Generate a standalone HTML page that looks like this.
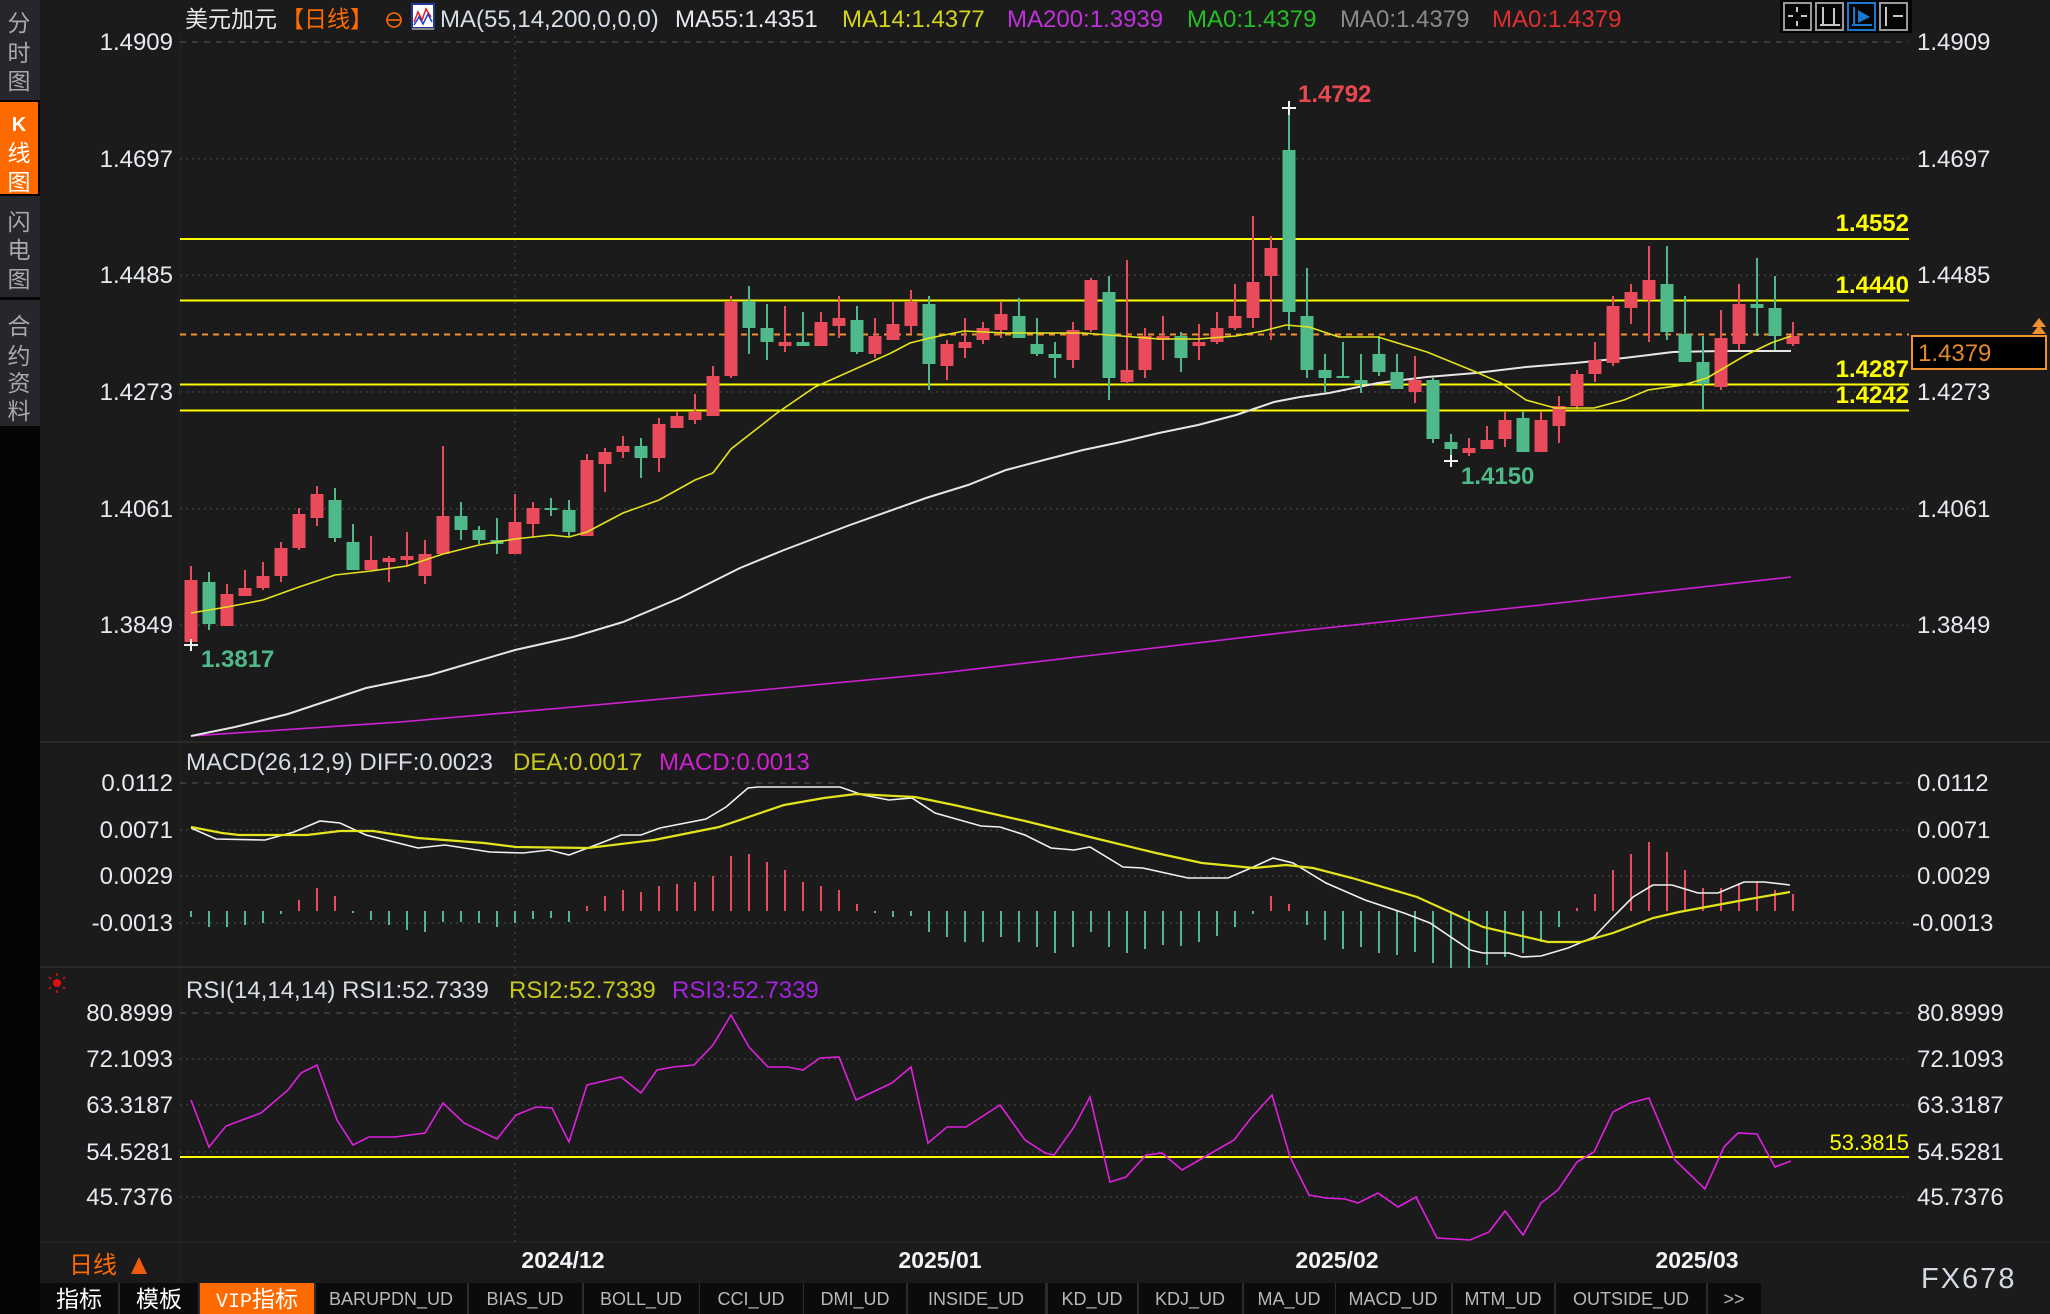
<!DOCTYPE html>
<html><head><meta charset="utf-8"><style>
html,body{margin:0;padding:0;background:#1b1b1b;}
svg{display:block;}
text{font-family:"Liberation Sans","Noto Sans CJK SC",sans-serif;}
.ax{font-size:24px;fill:#e6eaf0;}
.cj{font-family:"Liberation Sans","Noto Sans CJK SC",sans-serif;}
.tab{font-family:"Liberation Mono","Noto Sans CJK SC",monospace;font-size:18px;fill:#b8b8b8;text-anchor:middle;}
</style></head><body>
<svg width="2050" height="1314" viewBox="0 0 2050 1314" xmlns="http://www.w3.org/2000/svg">
<rect x="0" y="0" width="2050" height="1314" fill="#1b1b1b"/>
<!-- left sidebar -->
<rect x="0" y="0" width="40" height="1314" fill="#050505"/>
<rect x="0" y="0" width="40" height="100" fill="#26272c"/>
<rect x="0" y="102" width="38" height="92" fill="#ff6a00"/>
<rect x="0" y="196" width="40" height="101" fill="#26272c"/>
<rect x="0" y="300" width="40" height="126" fill="#26272c"/>
<g class="cj" font-size="23" fill="#a9a9a9" text-anchor="middle">
<text x="19" y="31">分</text><text x="19" y="61">时</text><text x="19" y="89">图</text>
<text x="19" y="230">闪</text><text x="19" y="258">电</text><text x="19" y="287">图</text>
<text x="19" y="334">合</text><text x="19" y="364">约</text><text x="19" y="391">资</text><text x="19" y="419">料</text>
</g>
<g class="cj" font-size="23" fill="#ffffff" text-anchor="middle">
<text x="19" y="131" font-size="20" font-weight="bold">K</text><text x="19" y="161">线</text><text x="19" y="190">图</text>
</g>

<!-- panel separators -->
<line x1="40" y1="742" x2="2050" y2="742" stroke="#2a2a2a" stroke-width="2"/>
<line x1="40" y1="967" x2="2050" y2="967" stroke="#2a2a2a" stroke-width="2"/>
<line x1="40" y1="1242" x2="2050" y2="1242" stroke="#242424" stroke-width="1"/>
<line x1="180" y1="36" x2="180" y2="1283" stroke="#262626" stroke-width="1"/>

<!-- gridlines -->
<g stroke="#3c3c3c" stroke-width="1.5" fill="none">
<line x1="180" y1="42" x2="1909" y2="42" stroke-dasharray="6 6" stroke="#444"/>
<line x1="180" y1="158.7" x2="1909" y2="158.7" stroke-dasharray="2 4"/>
<line x1="180" y1="275.3" x2="1909" y2="275.3" stroke-dasharray="2 4"/>
<line x1="180" y1="392" x2="1909" y2="392" stroke-dasharray="2 4"/>
<line x1="180" y1="508.7" x2="1909" y2="508.7" stroke-dasharray="2 4"/>
<line x1="180" y1="625.3" x2="1909" y2="625.3" stroke-dasharray="2 4"/>
<line x1="180" y1="783" x2="1909" y2="783" stroke-dasharray="6 6" stroke="#444"/>
<line x1="180" y1="830" x2="1909" y2="830" stroke-dasharray="2 4"/>
<line x1="180" y1="876" x2="1909" y2="876" stroke-dasharray="2 4"/>
<line x1="180" y1="923" x2="1909" y2="923" stroke-dasharray="2 4"/>
<line x1="180" y1="1013" x2="1909" y2="1013" stroke-dasharray="6 6" stroke="#444"/>
<line x1="180" y1="1059" x2="1909" y2="1059" stroke-dasharray="2 4"/>
<line x1="180" y1="1105" x2="1909" y2="1105" stroke-dasharray="2 4"/>
<line x1="180" y1="1152" x2="1909" y2="1152" stroke-dasharray="2 4"/>
<line x1="180" y1="1197" x2="1909" y2="1197" stroke-dasharray="2 4"/>
<line x1="515" y1="36" x2="515" y2="1242" stroke-dasharray="2 5"/>
</g>

<!-- header -->
<text x="185" y="27" font-size="23" fill="#e8e8e8">美元加元</text>
<text x="281" y="27" font-size="23" fill="#ff6a00">【日线】</text>
<circle cx="394" cy="20" r="7" fill="none" stroke="#ff6a00" stroke-width="1.6"/>
<line x1="387" y1="20" x2="401" y2="20" stroke="#ff6a00" stroke-width="1.6"/>
<rect x="412" y="4" width="22" height="24" fill="#ffffff" stroke="#223a9a" stroke-width="2"/>
<rect x="412" y="28" width="22" height="2" fill="#888"/>
<polyline points="414,22 418,12 422,20 426,9 431,17" fill="none" stroke="#e02020" stroke-width="1.5"/>
<polyline points="414,25 419,17 423,24 428,14 432,22" fill="none" stroke="#2040d0" stroke-width="1.5"/>
<text x="440" y="27" font-size="24" fill="#d6dde6">MA(55,14,200,0,0,0)</text>
<text x="675" y="27" font-size="24" fill="#e6eaf0">MA55:1.4351</text>
<text x="842" y="27" font-size="24" fill="#d4d41c">MA14:1.4377</text>
<text x="1007" y="27" font-size="24" fill="#c030dc">MA200:1.3939</text>
<text x="1187" y="27" font-size="24" fill="#22c022">MA0:1.4379</text>
<text x="1340" y="27" font-size="24" fill="#8a8a8a">MA0:1.4379</text>
<text x="1492" y="27" font-size="24" fill="#e03030">MA0:1.4379</text>
<!-- top right buttons -->
<rect x="1780" y="0" width="132" height="33" fill="#050505"/>
<g fill="none" stroke-width="2">
<rect x="1784" y="3" width="27" height="27" stroke="#9a9a9a"/>
<rect x="1816" y="3" width="27" height="27" stroke="#9a9a9a"/>
<rect x="1848" y="3" width="27" height="27" stroke="#1a78d0"/>
<rect x="1880" y="3" width="27" height="27" stroke="#9a9a9a"/>
</g>
<g stroke="#c8c8c8" stroke-width="2">
<line x1="1797" y1="7" x2="1797" y2="12"/><line x1="1797" y1="21" x2="1797" y2="26"/><line x1="1788" y1="16" x2="1793" y2="16"/><line x1="1801" y1="16" x2="1807" y2="16"/>
<line x1="1823" y1="7" x2="1823" y2="26"/><line x1="1820" y1="25" x2="1840" y2="25"/><line x1="1834" y1="8" x2="1834" y2="24"/>
<line x1="1854" y1="7" x2="1854" y2="26" stroke="#1a78d0"/><line x1="1852" y1="25" x2="1872" y2="25" stroke="#1a78d0"/>
<line x1="1886" y1="7" x2="1886" y2="26"/><line x1="1893" y1="16" x2="1903" y2="16"/>
</g>
<polygon points="1858,10 1870,17 1858,23" fill="#1a78d0"/>

<!-- axis labels main -->
<g class="ax" text-anchor="end">
<text x="173" y="50">1.4909</text><text x="173" y="167">1.4697</text><text x="173" y="283">1.4485</text>
<text x="173" y="400">1.4273</text><text x="173" y="517">1.4061</text><text x="173" y="633">1.3849</text>
<text x="173" y="791">0.0112</text><text x="173" y="838">0.0071</text><text x="173" y="884">0.0029</text><text x="173" y="931">-0.0013</text>
<text x="173" y="1021">80.8999</text><text x="173" y="1067">72.1093</text><text x="173" y="1113">63.3187</text><text x="173" y="1160">54.5281</text><text x="173" y="1205">45.7376</text>
</g>
<g class="ax">
<text x="1917" y="50">1.4909</text><text x="1917" y="167">1.4697</text><text x="1917" y="283">1.4485</text>
<text x="1917" y="400">1.4273</text><text x="1917" y="517">1.4061</text><text x="1917" y="633">1.3849</text>
<text x="1917" y="791">0.0112</text><text x="1917" y="838">0.0071</text><text x="1917" y="884">0.0029</text><text x="1912" y="931">-0.0013</text>
<text x="1917" y="1021">80.8999</text><text x="1917" y="1067">72.1093</text><text x="1917" y="1113">63.3187</text><text x="1917" y="1160">54.5281</text><text x="1917" y="1205">45.7376</text>
</g>

<!-- horizontal level lines -->
<g stroke="#ffff00" stroke-width="2">
<line x1="180" y1="239" x2="1909" y2="239"/>
<line x1="180" y1="300.5" x2="1909" y2="300.5"/>
<line x1="180" y1="384.5" x2="1909" y2="384.5"/>
<line x1="180" y1="410.5" x2="1909" y2="410.5"/>
<line x1="180" y1="1157" x2="1909" y2="1157"/>
</g>
<line x1="180" y1="334.5" x2="1909" y2="334.5" stroke="#f0902e" stroke-width="2" stroke-dasharray="6 5"/>
<g font-size="24" fill="#ffff00" text-anchor="end" font-weight="bold">
<text x="1909" y="231">1.4552</text><text x="1909" y="293">1.4440</text><text x="1909" y="377">1.4287</text><text x="1909" y="403">1.4242</text>
</g>
<text x="1909" y="1150" font-size="22" fill="#ffff00" text-anchor="end">53.3815</text>

<!-- MAs main -->
<polyline fill="none" stroke="#d020d8" stroke-width="1.6" points="191,736 400,722 562,708 750,691 941,673 1120,652 1307,630 1550,604 1791,577"/>
<polyline fill="none" stroke="#e6e6e6" stroke-width="2" points="191,736 235,727 288,714 366,688 430,675 515,650 573,637 623,622 680,598 740,568 784,550 850,525 926,498 968,485 1006,470 1044,460 1083,450 1121,442 1159,433 1198,425 1236,415 1274,402 1300,397 1329,393 1378,383 1427,377 1476,373 1526,367 1575,363 1624,358 1673,352 1722,351 1791,351"/>

<!-- candles red -->
<g fill="#e94b5b">
<rect x="190" y="566" width="2" height="79"/><rect x="184.5" y="580" width="13" height="62"/>
<rect x="226" y="584" width="2" height="42"/><rect x="220.5" y="594" width="13" height="32"/>
<rect x="244" y="570" width="2" height="26"/><rect x="238.5" y="588" width="13" height="8"/>
<rect x="262" y="562" width="2" height="28"/><rect x="256.5" y="576" width="13" height="12"/>
<rect x="280" y="542" width="2" height="40"/><rect x="274.5" y="548" width="13" height="28"/>
<rect x="298" y="508" width="2" height="42"/><rect x="292.5" y="514" width="13" height="34"/>
<rect x="316" y="486" width="2" height="40"/><rect x="310.5" y="494" width="13" height="24"/>
<rect x="370" y="536" width="2" height="34"/><rect x="364.5" y="560" width="13" height="10"/>
<rect x="388" y="556" width="2" height="26"/><rect x="382.5" y="558" width="13" height="4"/>
<rect x="406" y="532" width="2" height="34"/><rect x="400.5" y="556" width="13" height="4"/>
<rect x="424" y="540" width="2" height="44"/><rect x="418.5" y="554" width="13" height="22"/>
<rect x="442" y="446" width="2" height="108"/><rect x="436.5" y="516" width="13" height="38"/>
<rect x="514" y="494" width="2" height="60"/><rect x="508.5" y="522" width="13" height="32"/>
<rect x="532" y="502" width="2" height="36"/><rect x="526.5" y="508" width="13" height="16"/>
<rect x="586" y="454" width="2" height="82"/><rect x="580.5" y="460" width="13" height="76"/>
<rect x="604" y="448" width="2" height="44"/><rect x="598.5" y="452" width="13" height="12"/>
<rect x="622" y="436" width="2" height="22"/><rect x="616.5" y="446" width="13" height="6"/>
<rect x="658" y="418" width="2" height="54"/><rect x="652.5" y="424" width="13" height="34"/>
<rect x="676" y="412" width="2" height="16"/><rect x="670.5" y="416" width="13" height="12"/>
<rect x="694" y="394" width="2" height="30"/><rect x="688.5" y="412" width="13" height="8"/>
<rect x="712" y="366" width="2" height="50"/><rect x="706.5" y="376" width="13" height="40"/>
<rect x="730" y="296" width="2" height="82"/><rect x="724.5" y="302" width="13" height="74"/>
<rect x="784" y="306" width="2" height="46"/><rect x="778.5" y="342" width="13" height="4"/>
<rect x="820" y="312" width="2" height="34"/><rect x="814.5" y="322" width="13" height="24"/>
<rect x="838" y="296" width="2" height="42"/><rect x="832.5" y="318" width="13" height="8"/>
<rect x="874" y="318" width="2" height="40"/><rect x="868.5" y="336" width="13" height="18"/>
<rect x="892" y="302" width="2" height="38"/><rect x="886.5" y="324" width="13" height="16"/>
<rect x="910" y="290" width="2" height="44"/><rect x="904.5" y="302" width="13" height="24"/>
<rect x="946" y="340" width="2" height="40"/><rect x="940.5" y="344" width="13" height="22"/>
<rect x="964" y="318" width="2" height="40"/><rect x="958.5" y="342" width="13" height="6"/>
<rect x="982" y="322" width="2" height="22"/><rect x="976.5" y="328" width="13" height="12"/>
<rect x="1000" y="302" width="2" height="36"/><rect x="994.5" y="314" width="13" height="16"/>
<rect x="1072" y="322" width="2" height="46"/><rect x="1066.5" y="330" width="13" height="30"/>
<rect x="1090" y="278" width="2" height="54"/><rect x="1084.5" y="280" width="13" height="50"/>
<rect x="1126" y="260" width="2" height="124"/><rect x="1120.5" y="370" width="13" height="12"/>
<rect x="1144" y="328" width="2" height="50"/><rect x="1138.5" y="336" width="13" height="34"/>
<rect x="1162" y="316" width="2" height="44"/><rect x="1156.5" y="336" width="13" height="4"/>
<rect x="1198" y="324" width="2" height="36"/><rect x="1192.5" y="342" width="13" height="4"/>
<rect x="1216" y="312" width="2" height="32"/><rect x="1210.5" y="328" width="13" height="14"/>
<rect x="1234" y="284" width="2" height="46"/><rect x="1228.5" y="316" width="13" height="12"/>
<rect x="1252" y="216" width="2" height="112"/><rect x="1246.5" y="282" width="13" height="36"/>
<rect x="1270" y="236" width="2" height="104"/><rect x="1264.5" y="248" width="13" height="28"/>
<rect x="1414" y="356" width="2" height="47"/><rect x="1408.5" y="380" width="13" height="12"/>
<rect x="1468" y="438" width="2" height="18"/><rect x="1462.5" y="448" width="13" height="5"/>
<rect x="1486" y="426" width="2" height="23"/><rect x="1480.5" y="440" width="13" height="9"/>
<rect x="1504" y="412" width="2" height="35"/><rect x="1498.5" y="420" width="13" height="19"/>
<rect x="1540" y="412" width="2" height="40"/><rect x="1534.5" y="420" width="13" height="32"/>
<rect x="1558" y="396" width="2" height="47"/><rect x="1552.5" y="406" width="13" height="20"/>
<rect x="1576" y="370" width="2" height="39"/><rect x="1570.5" y="374" width="13" height="32"/>
<rect x="1594" y="342" width="2" height="40"/><rect x="1588.5" y="360" width="13" height="14"/>
<rect x="1612" y="296" width="2" height="70"/><rect x="1606.5" y="306" width="13" height="57"/>
<rect x="1630" y="284" width="2" height="40"/><rect x="1624.5" y="292" width="13" height="16"/>
<rect x="1648" y="246" width="2" height="96"/><rect x="1642.5" y="280" width="13" height="20"/>
<rect x="1720" y="310" width="2" height="80"/><rect x="1714.5" y="338" width="13" height="49"/>
<rect x="1738" y="284" width="2" height="66"/><rect x="1732.5" y="304" width="13" height="40"/>
<rect x="1792" y="322" width="2" height="24"/><rect x="1786.5" y="336" width="13" height="8"/>
</g>
<!-- candles green -->
<g fill="#4fb98a">
<rect x="208" y="572" width="2" height="58"/><rect x="202.5" y="582" width="13" height="42"/>
<rect x="334" y="488" width="2" height="54"/><rect x="328.5" y="500" width="13" height="38"/>
<rect x="352" y="524" width="2" height="46"/><rect x="346.5" y="542" width="13" height="28"/>
<rect x="460" y="502" width="2" height="38"/><rect x="454.5" y="516" width="13" height="14"/>
<rect x="478" y="526" width="2" height="18"/><rect x="472.5" y="530" width="13" height="10"/>
<rect x="496" y="518" width="2" height="36"/><rect x="490.5" y="540" width="13" height="4"/>
<rect x="550" y="498" width="2" height="18"/><rect x="544.5" y="508" width="13" height="2"/>
<rect x="568" y="500" width="2" height="36"/><rect x="562.5" y="510" width="13" height="22"/>
<rect x="640" y="438" width="2" height="40"/><rect x="634.5" y="446" width="13" height="12"/>
<rect x="748" y="286" width="2" height="68"/><rect x="742.5" y="301" width="13" height="27"/>
<rect x="766" y="304" width="2" height="56"/><rect x="760.5" y="328" width="13" height="14"/>
<rect x="802" y="312" width="2" height="34"/><rect x="796.5" y="342" width="13" height="4"/>
<rect x="856" y="306" width="2" height="48"/><rect x="850.5" y="320" width="13" height="32"/>
<rect x="928" y="296" width="2" height="94"/><rect x="922.5" y="304" width="13" height="60"/>
<rect x="1018" y="298" width="2" height="40"/><rect x="1012.5" y="316" width="13" height="22"/>
<rect x="1036" y="318" width="2" height="38"/><rect x="1030.5" y="344" width="13" height="10"/>
<rect x="1054" y="342" width="2" height="36"/><rect x="1048.5" y="354" width="13" height="4"/>
<rect x="1108" y="276" width="2" height="124"/><rect x="1102.5" y="292" width="13" height="86"/>
<rect x="1180" y="332" width="2" height="40"/><rect x="1174.5" y="336" width="13" height="22"/>
<rect x="1288" y="108" width="2" height="222"/><rect x="1282.5" y="150" width="13" height="162"/>
<rect x="1306" y="268" width="2" height="110"/><rect x="1300.5" y="316" width="13" height="54"/>
<rect x="1324" y="354" width="2" height="39"/><rect x="1318.5" y="370" width="13" height="8"/>
<rect x="1342" y="342" width="2" height="36"/><rect x="1336.5" y="376" width="13" height="2"/>
<rect x="1360" y="354" width="2" height="39"/><rect x="1354.5" y="380" width="13" height="4"/>
<rect x="1378" y="336" width="2" height="40"/><rect x="1372.5" y="354" width="13" height="18"/>
<rect x="1396" y="354" width="2" height="35"/><rect x="1390.5" y="372" width="13" height="17"/>
<rect x="1432" y="378" width="2" height="65"/><rect x="1426.5" y="380" width="13" height="59"/>
<rect x="1450" y="434" width="2" height="26"/><rect x="1444.5" y="442" width="13" height="7"/>
<rect x="1522" y="412" width="2" height="40"/><rect x="1516.5" y="418" width="13" height="34"/>
<rect x="1666" y="246" width="2" height="94"/><rect x="1660.5" y="284" width="13" height="48"/>
<rect x="1684" y="296" width="2" height="66"/><rect x="1678.5" y="334" width="13" height="28"/>
<rect x="1702" y="336" width="2" height="74"/><rect x="1696.5" y="362" width="13" height="22"/>
<rect x="1756" y="258" width="2" height="78"/><rect x="1750.5" y="304" width="13" height="4"/>
<rect x="1774" y="276" width="2" height="74"/><rect x="1768.5" y="308" width="13" height="28"/>
</g>
<!-- MA14 -->
<polyline fill="none" stroke="#e4e41c" stroke-width="1.6" points="191,613 227,607 263,600 299,587 335,575 371,571 407,566 443,554 479,545 515,539 551,535 569,537 587,532 623,513 659,500 695,480 713,473 731,449 777,413 815,387 853,370 891,353 910,343 930,338 964,331 1006,333 1083,333 1121,336 1159,339 1198,339 1236,336 1263,331 1286,325 1309,327 1339,337 1378,337 1427,352 1476,372 1501,383 1526,400 1555,408 1594,408 1624,400 1648,390 1683,385 1707,378 1746,355 1771,343 1791,336"/>

<!-- high/low markers -->
<g stroke="#f0f0f0" stroke-width="2">
<line x1="1282" y1="108" x2="1296" y2="108"/><line x1="1289" y1="101" x2="1289" y2="115"/>
<line x1="184" y1="645" x2="198" y2="645"/><line x1="191" y1="639" x2="191" y2="651"/>
<line x1="1444" y1="461" x2="1458" y2="461"/><line x1="1451" y1="455" x2="1451" y2="467"/>
</g>
<text x="1298" y="102" font-size="24" font-weight="bold" fill="#e8484f">1.4792</text>
<text x="201" y="667" font-size="24" font-weight="bold" fill="#4fb98a">1.3817</text>
<text x="1461" y="484" font-size="24" font-weight="bold" fill="#4fb98a">1.4150</text>

<!-- current price label -->
<rect x="1912" y="336" width="134" height="33" fill="#000" stroke="#f0902e" stroke-width="2"/>
<text x="1918" y="361" font-size="24" fill="#e08a30">1.4379</text>
<polygon points="2032,327 2039,318 2046,327" fill="#f0902e"/>
<polygon points="2032,334 2039,325 2046,334" fill="#f0902e"/>

<!-- MACD -->
<text x="186" y="770" font-size="24" fill="#d6dde6">MACD(26,12,9) DIFF:0.0023</text>
<text x="513" y="770" font-size="24" fill="#c8c81c">DEA:0.0017</text>
<text x="659" y="770" font-size="24" fill="#d020d0">MACD:0.0013</text>
<path fill="none" stroke="#e94b5b" stroke-width="2" d="M299 911v-11M317 911v-23M335 911v-15M587 911v-5M605 911v-15M623 911v-21M641 911v-19M659 911v-25M677 911v-27M695 911v-29M713 911v-35M731 911v-55M749 911v-57M767 911v-49M785 911v-41M803 911v-29M821 911v-25M839 911v-21M857 911v-7M1271 911v-15M1289 911v-7M1577 911v-3M1595 911v-17M1613 911v-41M1631 911v-57M1649 911v-69M1667 911v-59M1685 911v-41M1703 911v-23M1721 911v-23M1739 911v-28M1757 911v-30M1775 911v-21M1793 911v-17"/>
<path fill="none" stroke="#4fb98a" stroke-width="2" d="M191 911v6M209 911v16M227 911v16M245 911v14M263 911v12M281 911v3M353 911v2M371 911v9M389 911v14M407 911v19M425 911v21M443 911v11M461 911v11M479 911v12M497 911v16M515 911v12M533 911v8M551 911v7M569 911v11M875 911v2M893 911v6M911 911v5M929 911v21M947 911v26M965 911v31M983 911v31M1001 911v26M1019 911v31M1037 911v36M1055 911v42M1073 911v36M1091 911v21M1109 911v36M1127 911v42M1145 911v38M1163 911v34M1181 911v35M1199 911v31M1217 911v25M1235 911v16M1253 911v3M1307 911v14M1325 911v29M1343 911v38M1361 911v36M1379 911v42M1397 911v44M1415 911v41M1433 911v52M1451 911v57M1469 911v57M1487 911v54M1505 911v46M1523 911v42M1541 911v31M1559 911v16"/>
<polyline fill="none" stroke="#f0f0f0" stroke-width="1.6" points="191,828 216,839 265,840 294,832 320,821 340,823 366,835 418,848 445,845 490,852 523,853 549,850 569,855 601,843 621,835 641,835 660,828 706,819 726,807 748,788 758,787 840,787 863,795 889,800 912,798 935,813 981,826 1000,827 1025,835 1051,848 1074,850 1090,847 1123,867 1143,868 1188,878 1228,878 1251,868 1273,858 1293,863 1326,883 1365,900 1404,913 1430,923 1470,950 1483,953 1509,953 1522,957 1541,956 1568,948 1594,937 1613,917 1633,897 1653,885 1672,885 1698,893 1718,893 1744,882 1764,882 1790,885"/>
<polyline fill="none" stroke="#e4e41c" stroke-width="2.2" points="191,827 222,833 239,835 307,835 340,831 373,831 418,838 484,843 516,847 588,848 654,840 719,827 784,805 824,798 856,794 915,797 954,805 1025,821 1090,837 1156,853 1202,863 1254,868 1286,865 1313,868 1352,878 1417,897 1483,927 1548,942 1581,942 1613,933 1653,918 1679,912 1744,900 1790,892"/>

<!-- RSI -->
<g>
<circle cx="57" cy="983" r="4" fill="#e01010"/>
<g stroke="#e01010" stroke-width="1.5">
<line x1="57" y1="973" x2="57" y2="976"/><line x1="57" y1="990" x2="57" y2="993"/>
<line x1="49" y1="977" x2="51" y2="979"/><line x1="63" y1="987" x2="65" y2="989"/>
<line x1="65" y1="977" x2="63" y2="979"/><line x1="49" y1="989" x2="51" y2="987"/>
</g>
</g>
<text x="186" y="998" font-size="24" fill="#d6dde6">RSI(14,14,14) RSI1:52.7339</text>
<text x="509" y="998" font-size="24" fill="#c8c81c">RSI2:52.7339</text>
<text x="672" y="998" font-size="24" fill="#a424e0">RSI3:52.7339</text>
<polyline fill="none" stroke="#e020e0" stroke-width="1.6" points="191,1100 209,1147 226,1126 261,1113 288,1090 301,1073 317,1065 337,1120 353,1145 369,1137 395,1137 425,1133 443,1103 464,1123 497,1139 516,1115 536,1107 552,1108 569,1142 587,1085 621,1077 641,1093 657,1070 673,1067 694,1065 713,1045 731,1015 749,1047 768,1067 788,1067 803,1070 820,1058 839,1057 856,1100 892,1083 911,1067 928,1143 947,1127 966,1127 1000,1105 1020,1133 1025,1140 1045,1153 1054,1155 1074,1127 1090,1097 1110,1182 1126,1177 1146,1155 1162,1153 1182,1170 1208,1155 1234,1140 1251,1118 1272,1095 1290,1157 1309,1195 1326,1198 1345,1199 1358,1203 1378,1193 1398,1207 1416,1197 1437,1238 1470,1240 1489,1232 1505,1211 1523,1235 1541,1203 1558,1190 1577,1162 1594,1152 1613,1112 1630,1103 1649,1098 1675,1160 1705,1189 1724,1147 1738,1133 1757,1134 1775,1167 1791,1161"/>

<!-- time axis -->
<g font-size="23" font-weight="bold" fill="#f2f4f8" text-anchor="middle">
<text x="563" y="1268">2024/12</text><text x="940" y="1268">2025/01</text>
<text x="1337" y="1268">2025/02</text><text x="1697" y="1268">2025/03</text>
</g>
<text x="69" y="1273" font-size="24" fill="#ff6a00">日线</text>
<polygon points="131,1274 139,1257 147,1274" fill="#f05a10"/>

<!-- bottom tabs -->
<rect x="40" y="1283" width="1721" height="31" fill="#0b0b0b"/>
<rect x="200" y="1283" width="114" height="31" fill="#ff6a00"/>
<g fill="#2c2c2c">
<rect x="118" y="1283" width="2" height="31"/><rect x="198" y="1283" width="2" height="31"/><rect x="314" y="1283" width="2" height="31"/>
<rect x="467" y="1283" width="2" height="31"/><rect x="582" y="1283" width="2" height="31"/><rect x="699" y="1283" width="1" height="31"/>
<rect x="803" y="1283" width="1" height="31"/><rect x="906" y="1283" width="2" height="31"/><rect x="1045" y="1283" width="3" height="31"/>
<rect x="1137" y="1283" width="2" height="31"/><rect x="1242" y="1283" width="2" height="31"/><rect x="1335" y="1283" width="1" height="31"/>
<rect x="1451" y="1283" width="2" height="31"/><rect x="1554" y="1283" width="2" height="31"/><rect x="1706" y="1283" width="2" height="31"/>
</g>
<g class="cj" font-size="23" fill="#ffffff" text-anchor="middle">
<text x="79" y="1307">指标</text><text x="159" y="1307">模板</text>
<text x="257" y="1307"><tspan font-family="Liberation Mono, monospace" font-size="20">VIP</tspan>指标</text>
</g>
<g class="tab">
<text x="391" y="1305">BARUPDN_UD</text><text x="525" y="1305">BIAS_UD</text><text x="641" y="1305">BOLL_UD</text>
<text x="751" y="1305">CCI_UD</text><text x="855" y="1305">DMI_UD</text><text x="976" y="1305">INSIDE_UD</text>
<text x="1092" y="1305">KD_UD</text><text x="1190" y="1305">KDJ_UD</text><text x="1289" y="1305">MA_UD</text>
<text x="1393" y="1305">MACD_UD</text><text x="1503" y="1305">MTM_UD</text><text x="1631" y="1305">OUTSIDE_UD</text>
<text x="1734" y="1305">&gt;&gt;</text>
</g>
<text x="1921" y="1288" font-size="29" fill="#d4dae2" font-family="Liberation Mono, monospace" letter-spacing="2">FX678</text>
</svg>
</body></html>
